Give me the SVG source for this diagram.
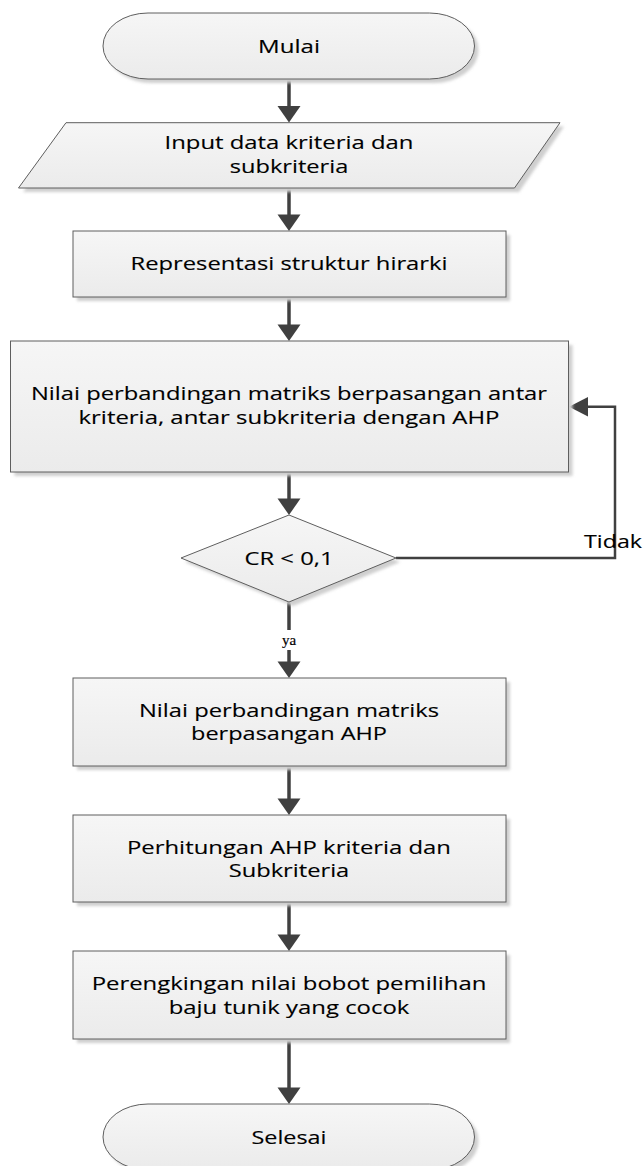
<svg xmlns="http://www.w3.org/2000/svg" width="643" height="1166" viewBox="0 0 643 1166">
<style>
.shape{fill:url(#g);stroke:#5e5e5e;stroke-width:1}
.shadow{fill:#cfcfcf;filter:url(#blur)}
.t{font-family:"Open Sans","Liberation Sans",sans-serif;font-size:17.5px;fill:#000000;stroke:#000000;stroke-width:0.12;text-anchor:middle}
.ln{fill:none;stroke:#404040;stroke-width:3.5}
.ln2{fill:none;stroke:#404040;stroke-width:2.5}
.ah{fill:#404040}
.ya{font-family:"Liberation Serif",serif;font-size:15px;fill:#000000;stroke:#000000;stroke-width:0.2;text-anchor:middle}
</style>
<defs>
<linearGradient id="g" x1="0" y1="0" x2="0" y2="1">
<stop offset="0" stop-color="#f6f6f6"/>
<stop offset="1" stop-color="#ebebeb"/>
</linearGradient>
<filter id="blur" x="-10%" y="-10%" width="120%" height="130%"><feGaussianBlur stdDeviation="1.5"/></filter>
</defs>
<rect width="643" height="1166" fill="#ffffff"/>

<g id="connectors">
<line class="ln" x1="289" y1="79" x2="289" y2="108"/>
<polygon class="ah" points="277.5,106 300.5,106 289,122.5"/>
<line class="ln" x1="289" y1="188" x2="289" y2="216"/>
<polygon class="ah" points="277.5,214.5 300.5,214.5 289,231"/>
<line class="ln" x1="289" y1="297" x2="289" y2="326"/>
<polygon class="ah" points="277.5,324.5 300.5,324.5 289,341"/>
<line class="ln" x1="289" y1="472" x2="289" y2="500"/>
<polygon class="ah" points="277.5,498.5 300.5,498.5 289,515"/>
<line class="ln" x1="289" y1="602" x2="289" y2="630"/>
<line class="ln" x1="289" y1="650" x2="289" y2="664"/>
<polygon class="ah" points="277.5,661.5 300.5,661.5 289,678"/>
<line class="ln" x1="289" y1="766" x2="289" y2="800"/>
<polygon class="ah" points="277.5,798.5 300.5,798.5 289,815"/>
<line class="ln" x1="289" y1="902" x2="289" y2="936"/>
<polygon class="ah" points="277.5,934.5 300.5,934.5 289,951"/>
<line class="ln" x1="289" y1="1039" x2="289" y2="1089"/>
<polygon class="ah" points="277.5,1087.5 300.5,1087.5 289,1104"/>
<polyline class="ln2" points="396,558 615,558 615,406.7 585,406.7"/>
<polygon class="ah" points="569,406.7 588,397 588,416.4"/>
<text class="ya" x="289" y="645">ya</text>
<text class="t" x="584" y="548" style="text-anchor:start" textLength="58" lengthAdjust="spacingAndGlyphs">Tidak</text>
</g>

<g id="mulai">
<rect class="shadow" x="107" y="17" width="371.5" height="66" rx="45" ry="33"/>
<rect class="shape" x="103" y="13" width="371.5" height="66" rx="45" ry="33"/>
<text class="t" x="289" y="52.5" textLength="62" lengthAdjust="spacingAndGlyphs">Mulai</text>
</g>

<g id="input">
<polygon class="shadow" points="70,126.5 564,126.5 519,192 23,192"/>
<polygon class="shape" points="66,122.7 560,122.7 514.5,188 18.5,188"/>
<text class="t" x="289" y="149" textLength="249" lengthAdjust="spacingAndGlyphs">Input data kriteria dan</text>
<text class="t" x="289" y="173" textLength="118.5" lengthAdjust="spacingAndGlyphs">subkriteria</text>
</g>

<g id="representasi">
<rect class="shadow" x="77" y="235" width="433" height="66"/>
<rect class="shape" x="73" y="231" width="433" height="66"/>
<text class="t" x="289" y="270" textLength="317" lengthAdjust="spacingAndGlyphs">Representasi struktur hirarki</text>
</g>

<g id="matriks-antar">
<rect class="shadow" x="14.5" y="345" width="558" height="131"/>
<rect class="shape" x="10.5" y="341" width="558" height="131"/>
<text class="t" x="289" y="400" textLength="516" lengthAdjust="spacingAndGlyphs">Nilai perbandingan matriks berpasangan antar</text>
<text class="t" x="289" y="423.5" textLength="421" lengthAdjust="spacingAndGlyphs">kriteria, antar subkriteria dengan AHP</text>
</g>

<g id="cr">
<polygon class="shadow" points="293,519 400,562 293,606 185,562"/>
<polygon class="shape" points="289,515 396,558 289,602 181,558"/>
<text class="t" x="289" y="565" textLength="89" lengthAdjust="spacingAndGlyphs">CR &lt; 0,1</text>
</g>

<g id="matriks-ahp">
<rect class="shadow" x="77" y="682" width="433" height="88"/>
<rect class="shape" x="73" y="678" width="433" height="88"/>
<text class="t" x="289" y="717" textLength="300" lengthAdjust="spacingAndGlyphs">Nilai perbandingan matriks</text>
<text class="t" x="289" y="740" textLength="196" lengthAdjust="spacingAndGlyphs">berpasangan AHP</text>
</g>

<g id="perhitungan">
<rect class="shadow" x="77" y="819" width="433" height="87"/>
<rect class="shape" x="73" y="815" width="433" height="87"/>
<text class="t" x="289" y="853.5" textLength="324" lengthAdjust="spacingAndGlyphs">Perhitungan AHP kriteria dan</text>
<text class="t" x="289" y="876.5" textLength="120.6" lengthAdjust="spacingAndGlyphs">Subkriteria</text>
</g>

<g id="perengkingan">
<rect class="shadow" x="77" y="955" width="433" height="88"/>
<rect class="shape" x="73" y="951" width="433" height="88"/>
<text class="t" x="289" y="989.5" textLength="394.7" lengthAdjust="spacingAndGlyphs">Perengkingan nilai bobot pemilihan</text>
<text class="t" x="289" y="1013.5" textLength="240.7" lengthAdjust="spacingAndGlyphs">baju tunik yang cocok</text>
</g>

<g id="selesai">
<rect class="shadow" x="107" y="1108" width="371.5" height="66" rx="45" ry="33"/>
<rect class="shape" x="103" y="1104" width="371.5" height="66" rx="45" ry="33"/>
<text class="t" x="289" y="1143.5" textLength="75" lengthAdjust="spacingAndGlyphs">Selesai</text>
</g>
</svg>
